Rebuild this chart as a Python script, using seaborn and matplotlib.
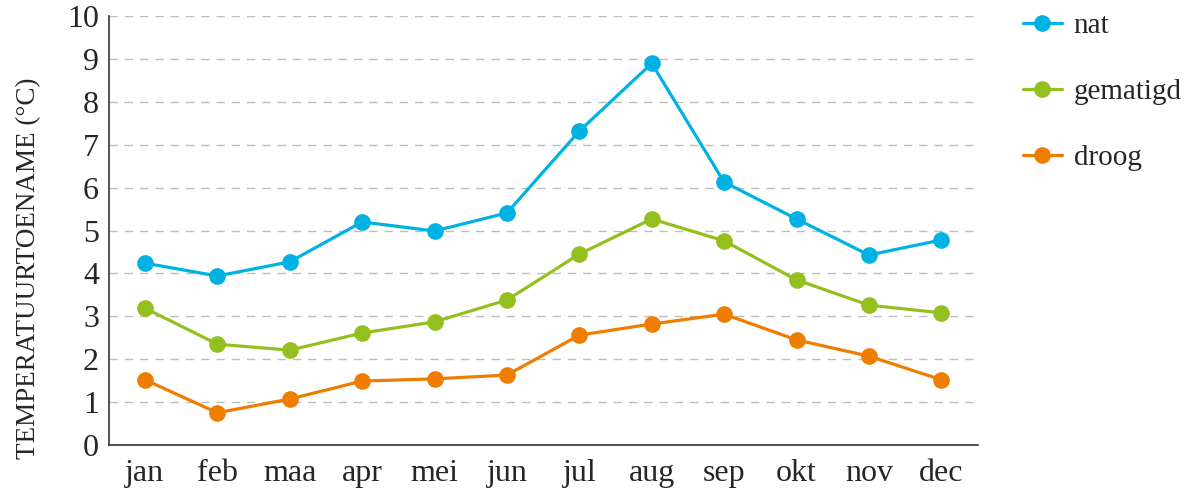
import numpy as np
import pandas as pd
import matplotlib
matplotlib.use("Agg")
import matplotlib.pyplot as plt
import seaborn as sns
from matplotlib.ticker import FixedLocator

months = ["jan", "feb", "maa", "apr", "mei", "jun", "jul", "aug", "sep", "okt", "nov", "dec"]
nat = [4.24, 3.94, 4.27, 5.2, 4.99, 5.41, 7.32, 8.9, 6.13, 5.27, 4.43, 4.78]
gematigd = [3.19, 2.35, 2.21, 2.61, 2.87, 3.38, 4.45, 5.27, 4.76, 3.85, 3.26, 3.08]
droog = [1.52, 0.75, 1.07, 1.49, 1.54, 1.63, 2.56, 2.82, 3.05, 2.45, 2.07, 1.52]
series_names = ["nat", "gematigd", "droog"]
colors = ["#00B2E3", "#93C01F", "#EF7D00"]

df = pd.concat([
    pd.DataFrame({"maand": months, "waarde": vals, "klimaat": name})
    for name, vals in zip(series_names, [nat, gematigd, droog])
])

sns.set_style("white")
plt.rcParams["font.family"] = ["Liberation Serif", "DejaVu Serif"]

fig = plt.figure(figsize=(11.95, 4.9), dpi=100)
ax = fig.add_axes([0.091, 0.092, 0.727, 0.875])

sns.lineplot(data=df, x="maand", y="waarde", hue="klimaat", hue_order=series_names,
             palette=colors, marker="o", markersize=12, markeredgewidth=0,
             linewidth=2.3, sort=False, ax=ax)

ax.set_xlim(-0.5, 11.5)
ax.set_ylim(0, 10)
ax.set_yticks(range(0, 11))
ax.set_xticks(range(12))
ax.set_xticklabels(months)
ax.xaxis.set_minor_locator(FixedLocator(np.arange(-0.5, 12, 1.0)))
ax.tick_params(axis="x", which="major", length=0, labelsize=23, pad=10)
ax.tick_params(axis="x", which="minor", length=10, width=1.2, color="#333333", direction="out")
ax.tick_params(axis="y", length=0, labelsize=23, pad=7)
ax.yaxis.grid(True, linestyle=(0, (6, 5)), color="#bdbdbd", linewidth=1.0)
ax.xaxis.grid(False)
for s in ["top", "right"]:
    ax.spines[s].set_visible(False)
for s in ["left", "bottom"]:
    ax.spines[s].set_color("#333333")
    ax.spines[s].set_linewidth(1.2)
ax.set_xlabel("")
ax.set_ylabel("")
fig.text(0.024, 0.453, "TEMPERATUURTOENAME (°C)", rotation=90, ha="center", va="center",
         fontsize=19.5)

leg = ax.legend(loc="upper left", bbox_to_anchor=(1.052, 1.009), frameon=False,
                borderpad=0, borderaxespad=0,
                fontsize=21, labelspacing=1.36, handlelength=1.35, handletextpad=0.4)

fig.savefig("out.png", dpi=100)
